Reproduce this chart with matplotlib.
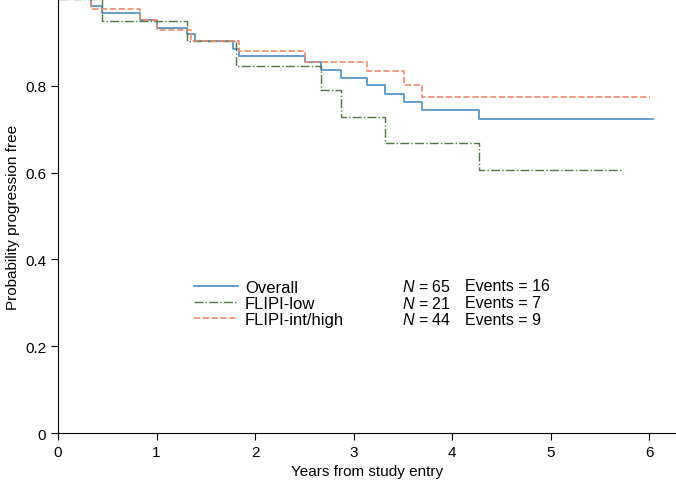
import matplotlib
matplotlib.use("Agg")
import matplotlib.pyplot as plt

plt.rcParams['font.family'] = ['Liberation Sans', 'DejaVu Sans']
plt.rcParams['mathtext.fontset'] = 'custom'
plt.rcParams['mathtext.it'] = 'Liberation Sans:italic'
plt.rcParams['mathtext.rm'] = 'Liberation Sans'

# Kaplan-Meier step data (time in years, survival probability)
overall_t = [0, 0.33, 0.45, 0.83, 1.0, 1.31, 1.39, 1.78, 1.84, 2.51, 2.67, 2.87, 3.14, 3.32, 3.51, 3.69, 4.27, 6.04]
overall_s = [1.0, 0.985, 0.968, 0.951, 0.934, 0.919, 0.903, 0.885, 0.868, 0.854, 0.836, 0.818, 0.802, 0.782, 0.763, 0.745, 0.724, 0.724]

low_t = [0, 0.45, 1.31, 1.81, 2.67, 2.87, 3.32, 4.27, 5.72]
low_s = [1.0, 0.949, 0.903, 0.846, 0.790, 0.729, 0.668, 0.607, 0.607]

high_t = [0, 0.33, 0.83, 1.0, 1.35, 1.84, 2.51, 3.14, 3.51, 3.69, 6.01]
high_s = [1.0, 0.977, 0.951, 0.929, 0.903, 0.880, 0.856, 0.833, 0.803, 0.775, 0.775]

labels = ['Overall', 'FLIPI-low', 'FLIPI-int/high']
n_pts = [65, 21, 44]
events = [16, 7, 9]

fig = plt.figure(figsize=(6.76, 4.85), dpi=100)
ax = fig.add_axes([0.0858, 0.105, 0.914, 0.895])

ax.step(overall_t, overall_s, where='post', color='#4a8ec4', lw=1.2, label=labels[0], clip_on=False)
ax.step(low_t, low_s, where='post', color='#4f7a45', lw=1.0, ls='-.', label=labels[1], clip_on=False)
ax.step(high_t, high_s, where='post', color='#ef8a6a', lw=1.2, ls='--', label=labels[2], clip_on=False)

ax.set_xlim(0, 6.27)
ax.set_ylim(0, 1.0)
ax.set_xticks([0, 1, 2, 3, 4, 5, 6])
ax.set_yticks([0, 0.2, 0.4, 0.6, 0.8])
ax.set_yticklabels(['0', '0.2', '0.4', '0.6', '0.8'])
ax.spines['top'].set_visible(False)
ax.spines['right'].set_visible(False)
ax.tick_params(direction='out', length=5, labelsize=11)
ax.set_xlabel('Years from study entry', fontsize=11)
ax.set_ylabel('Probability progression free', fontsize=11)

leg = ax.legend(loc='upper left', bbox_to_anchor=(0.196, 0.388), frameon=False,
                fontsize=12, handlelength=2.65, labelspacing=0.08, handletextpad=0.4)

rows_y = [0.339, 0.300, 0.262]
for y, n, e in zip(rows_y, n_pts, events):
    ax.text(0.557, y, '$N$ = %d' % n, transform=ax.transAxes, fontsize=11.5, va='center')
    ax.text(0.659, y, 'Events = %d' % e, transform=ax.transAxes, fontsize=11.5, va='center')

fig.savefig('out.png', dpi=100)
